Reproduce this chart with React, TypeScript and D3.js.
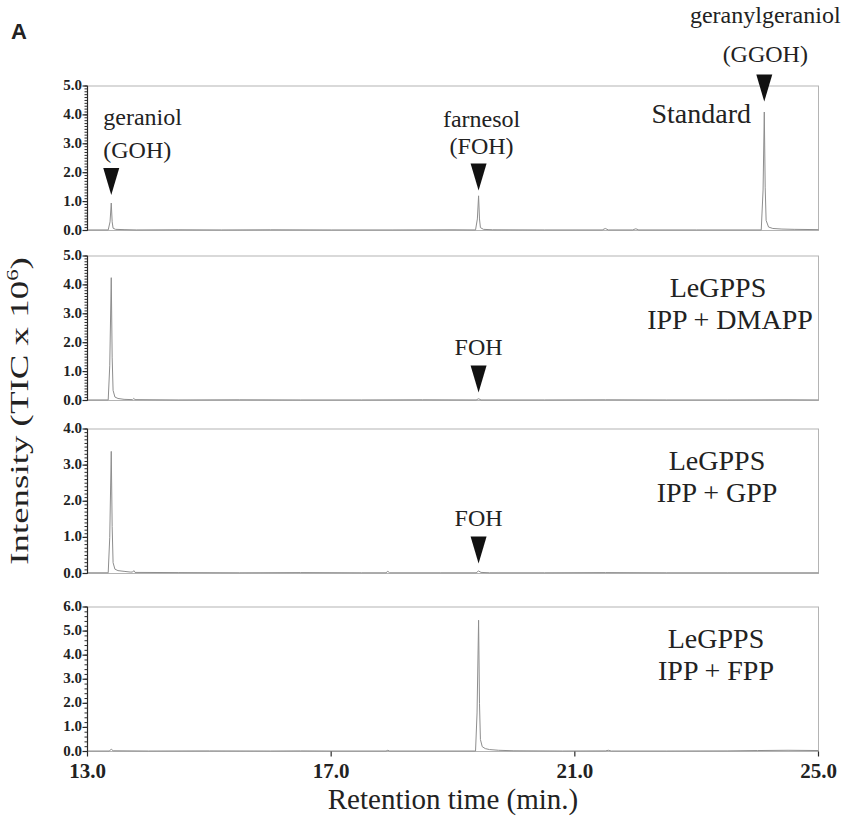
import * as d3 from "d3"

// retention time (min) / intensity (TIC x 10^6)
const standardTrace: [number, number][] = [
    [13.0, 0.02], [13.34, 0.02], [13.37, 0.3], [13.39, 0.95], [13.405, 0.3], [13.42, 0.08],
    [13.46, 0.04], [13.6, 0.03], [13.8, 0.02], [14.5, 0.025], [15.2, 0.02], [16.0, 0.025],
    [17.0, 0.02], [18.0, 0.02], [19.0, 0.025], [19.37, 0.02], [19.4, 0.4], [19.42, 1.2],
    [19.435, 0.4], [19.45, 0.1], [19.5, 0.04], [19.65, 0.025], [20.5, 0.02], [21.45, 0.02],
    [21.5, 0.07], [21.55, 0.02], [21.95, 0.02], [22.0, 0.06], [22.05, 0.02], [23.0, 0.02],
    [24.06, 0.02], [24.09, 1.4], [24.11, 4.1], [24.125, 1.5], [24.14, 0.35], [24.18, 0.12],
    [24.25, 0.07], [24.4, 0.05], [24.6, 0.04], [25.0, 0.03],
]
const dmappTrace: [number, number][] = [
    [13.0, 0.02], [13.34, 0.02], [13.365, 1.2], [13.39, 4.25], [13.405, 1.5], [13.42, 0.35],
    [13.45, 0.12], [13.5, 0.07], [13.6, 0.04], [13.74, 0.03], [13.76, 0.07], [13.78, 0.03],
    [14.5, 0.02], [15.5, 0.025], [16.5, 0.02], [17.5, 0.02], [18.5, 0.025], [19.38, 0.02],
    [19.42, 0.06], [19.46, 0.02], [20.5, 0.02], [21.5, 0.025], [22.5, 0.02], [23.5, 0.02],
    [24.5, 0.025], [25.0, 0.02],
]
const gppTrace: [number, number][] = [
    [13.0, 0.02], [13.34, 0.02], [13.365, 1.0], [13.39, 3.38], [13.405, 1.3], [13.42, 0.3],
    [13.45, 0.12], [13.5, 0.08], [13.6, 0.06], [13.7, 0.04], [13.74, 0.04], [13.76, 0.08],
    [13.78, 0.03], [14.5, 0.025], [15.5, 0.02], [16.5, 0.025], [17.5, 0.02], [17.9, 0.02],
    [17.93, 0.06], [17.96, 0.02], [18.8, 0.02], [19.38, 0.02], [19.42, 0.07], [19.46, 0.03],
    [19.6, 0.02], [20.5, 0.02], [21.5, 0.025], [22.5, 0.02], [23.5, 0.02], [24.5, 0.02],
    [25.0, 0.02],
]
const fppTrace: [number, number][] = [
    [13.0, 0.02], [13.36, 0.02], [13.39, 0.1], [13.42, 0.03], [14.0, 0.02], [15.0, 0.025],
    [16.0, 0.02], [16.5, 0.025], [17.0, 0.02], [17.9, 0.02], [17.93, 0.05], [17.96, 0.02],
    [19.37, 0.02], [19.395, 1.6], [19.42, 5.45], [19.435, 2.0], [19.45, 0.5], [19.48, 0.2],
    [19.53, 0.12], [19.6, 0.08], [19.75, 0.05], [20.0, 0.03], [20.8, 0.02], [21.5, 0.025],
    [21.55, 0.05], [21.6, 0.02], [22.5, 0.02], [23.5, 0.025], [24.0, 0.04], [24.5, 0.05],
    [25.0, 0.04],
]

const traces = [standardTrace, dmappTrace, gppTrace, fppTrace]
const panelNames = [
    ["Standard"],
    ["LeGPPS", "IPP + DMAPP"],
    ["LeGPPS", "IPP + GPP"],
    ["LeGPPS", "IPP + FPP"],
]
const yMaxes = [5, 5, 4, 6]
const minorSteps = [0.1, 0.1, 0.1, 0.2]
const xTicks = [13, 17, 21, 25]

// arrowheads: panel, retention time, tip height, label lines
const markers = [
    { panel: 0, t: 13.39, tip: 1.23, lines: ["geraniol", "(GOH)"] },
    { panel: 0, t: 19.42, tip: 1.38, lines: ["farnesol", "(FOH)"] },
    { panel: 0, t: 24.11, tip: 4.46, lines: ["geranylgeraniol", "(GGOH)"] },
    { panel: 1, t: 19.42, tip: 0.28, lines: ["FOH"] },
    { panel: 2, t: 19.42, tip: 0.28, lines: ["FOH"] },
]

// layout
const W = 842
const H = 830
const left = 87.5
const right = 818.5
const panelTops = [86, 256, 429, 607]
const panelH = 144.5
const serif = "Liberation Serif, Times New Roman, serif"
const markerAnchor = ["start", "middle", "middle", "middle", "middle"]
const markerDx = [-8, 3, 1, 0, 0]
const markerLineY = [[-43, -10], [-37, -10], [-52, -13], [-10], [-10]]
const nameX = [[751], [718, 730], [717, 717], [716, 716]]
const nameAnchor = ["end", "middle", "middle", "middle"]

export default function App() {
    const x = d3.scaleLinear().domain([13, 25]).range([left, right])
    const ys = yMaxes.map((m, i) =>
        d3.scaleLinear().domain([0, m]).range([panelTops[i] + panelH, panelTops[i]])
    )

    const axisColor = "#2a2a2a"
    const frameColor = "#b4b4b4"
    const traceColor = "#8e8e8e"
    const fmt = d3.format(".1f")

    return (
        <svg
            width={W}
            height={H}
            viewBox={`0 0 ${W} ${H}`}
            style={{ position: "absolute", left: 0, top: 0, background: "#fff" }}
        >
            <text x={11} y={39} fontFamily="Liberation Sans, Arial, sans-serif" fontWeight="bold" fontSize={22} fill="#222">
                A
            </text>

            {traces.map((trace, i) => {
                const y = ys[i]
                const top = panelTops[i]
                const bottom = top + panelH
                const line = d3
                    .line<[number, number]>()
                    .x((d) => x(d[0]))
                    .y((d) => y(d[1]))
                const minor = d3.range(0, yMaxes[i] + 1e-9, minorSteps[i])
                const major = y.ticks(yMaxes[i])
                return (
                    <g key={i}>
                        {/* frame */}
                        <rect x={left} y={top} width={right - left} height={panelH} fill="none" stroke={frameColor} strokeWidth={1} />

                        {/* trace */}
                        <path d={line(trace) ?? ""} fill="none" stroke={traceColor} strokeWidth={1} strokeLinejoin="round" />

                        {/* y axis */}
                        <line x1={left} x2={left} y1={top} y2={bottom} stroke={axisColor} strokeWidth={1.2} />
                        {minor.map((t, k) => (
                            <line key={"m" + k} x1={left - 3} x2={left} y1={y(t)} y2={y(t)} stroke={axisColor} strokeWidth={1} />
                        ))}
                        {major.map((t, k) => (
                            <g key={"M" + k}>
                                <line x1={left - 5} x2={left} y1={y(t)} y2={y(t)} stroke={axisColor} strokeWidth={1.2} />
                                <text
                                    x={left - 5.5}
                                    y={y(t) + 4}
                                    textAnchor="end"
                                    fontFamily={serif}
                                    fontWeight="bold"
                                    fontSize={15}
                                    fill="#222"
                                >
                                    {fmt(t)}
                                </text>
                            </g>
                        ))}

                        {/* sample name */}
                        {panelNames[i].map((s, k) => (
                            <text
                                key={"n" + k}
                                x={nameX[i][k]}
                                y={top + (i === 0 ? 37 : 41 + k * 32)}
                                textAnchor={nameAnchor[i]}
                                fontFamily={serif}
                                fontSize={28}
                                fill="#222"
                            >
                                {s}
                            </text>
                        ))}
                    </g>
                )
            })}

            {/* x axis on the bottom panel */}
            <g>
                {xTicks.map((t) => (
                    <g key={t} transform={`translate(${x(t)},${panelTops[3] + panelH})`}>
                        <line y2={5} stroke={axisColor} strokeWidth={1.2} />
                        <text y={26} textAnchor="middle" fontFamily={serif} fontWeight="bold" fontSize={21} fill="#222">
                            {fmt(t)}
                        </text>
                    </g>
                ))}
            </g>

            {/* arrowheads and peak labels */}
            {markers.map((m, i) => {
                const cx = x(m.t)
                const tipY = ys[m.panel](m.tip)
                const topY = tipY - 27
                return (
                    <g key={i}>
                        <path d={`M${cx - 8},${topY}L${cx + 8},${topY}L${cx},${tipY}Z`} fill="#111" />
                        {m.lines.map((s, k) => (
                            <text
                                key={k}
                                x={cx + markerDx[i]}
                                y={topY + markerLineY[i][k]}
                                textAnchor={markerAnchor[i]}
                                fontFamily={serif}
                                fontSize={24}
                                fill="#222"
                            >
                                {s}
                            </text>
                        ))}
                    </g>
                )
            })}

            {/* axis titles */}
            <text x={453} y={809} textAnchor="middle" fontFamily={serif} fontSize={29} fill="#222">
                Retention time (min.)
            </text>
            <text
                transform="translate(28,411) rotate(-90) scale(1.42,1)"
                textAnchor="middle"
                fontFamily={serif}
                fontSize={26}
                fill="#222"
            >
                Intensity (TIC x 10
                <tspan dy={-10} fontSize={16}>6</tspan>
                <tspan dy={10}>)</tspan>
            </text>
        </svg>
    )
}
